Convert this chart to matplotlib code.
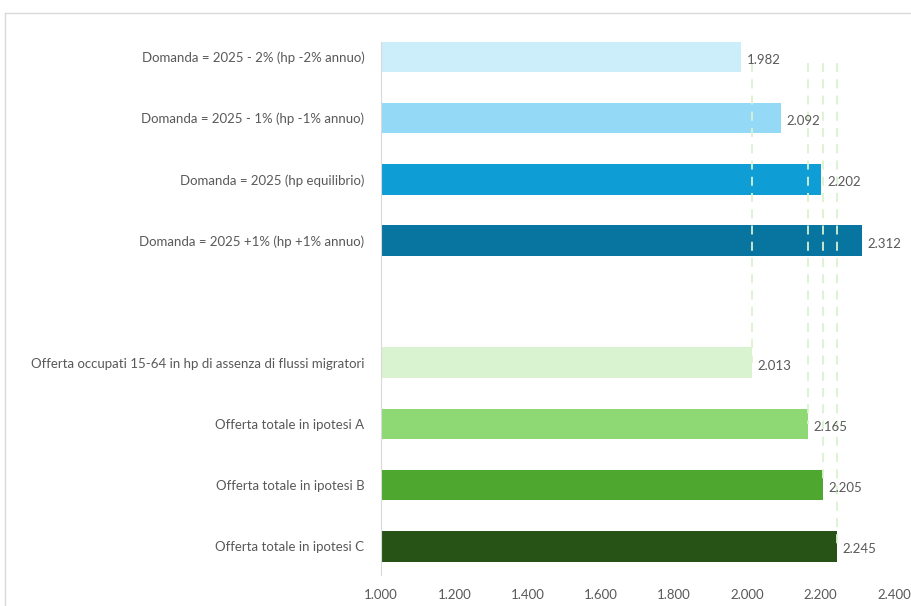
import matplotlib.pyplot as plt
from matplotlib.lines import Line2D
from matplotlib.ticker import FuncFormatter

plt.rcParams['font.family'] = ['Lato', 'DejaVu Sans']

# dati
categorie = [
    'Domanda = 2025 - 2% (hp -2% annuo)',
    'Domanda = 2025 - 1% (hp -1% annuo)',
    'Domanda = 2025 (hp equilibrio)',
    'Domanda = 2025 +1% (hp +1% annuo)',
    '',
    'Offerta occupati 15-64 in hp di assenza di flussi migratori',
    'Offerta totale in ipotesi A',
    'Offerta totale in ipotesi B',
    'Offerta totale in ipotesi C',
]
valori = [1982, 2092, 2202, 2312, None, 2013, 2165, 2205, 2245]
colori = ['#CCEEFB', '#94DAF7', '#0F9DD6', '#0874A0', None,
          '#D9F2D0', '#8ED973', '#4EA72E', '#275317']
tick_x = [1000, 1200, 1400, 1600, 1800, 2000, 2200, 2400]

testo = '#595959'

fig = plt.figure(figsize=(9.12, 6.06), dpi=100)
ax = fig.add_axes([0.4178, 0.0512, 0.5625, 0.8795])

for i, (v, c) in enumerate(zip(valori, colori)):
    if v is None:
        continue
    ax.barh(i, v - 1000, left=1000, height=0.5, color=c, zorder=2)
    ax.text(v + 15, i + 0.05, f'{v/1000:.3f}', va='center', ha='left',
            fontsize=9.5, color=testo, zorder=4)

# linee tratteggiate di riferimento (offerta)
for i in range(5, 9):
    ax.plot([valori[i], valori[i]], [0.1, i], color='#D9F2D0', lw=1.3,
            ls=(0, (5, 4)), zorder=3)

ax.set_xlim(1000, 2400)
ax.set_ylim(8.47, -0.245)
ax.set_xticks(tick_x)
ax.xaxis.set_major_formatter(FuncFormatter(lambda x, p: f'{x/1000:.3f}'))
ax.set_yticks(range(len(categorie)))
ax.set_yticklabels(categorie)
ax.tick_params(axis='both', length=0, colors=testo, labelsize=9.5)
ax.tick_params(axis='x', pad=10)
ax.tick_params(axis='y', pad=12)
for s in ['top', 'right', 'bottom']:
    ax.spines[s].set_visible(False)
ax.spines['left'].set_color('#D9D9D9')

# cornice del grafico
fig.add_artist(Line2D([5/912, 1], [1 - 13/606, 1 - 13/606], color='#D9D9D9', lw=1))
fig.add_artist(Line2D([5/912, 5/912], [0, 1 - 13/606], color='#D9D9D9', lw=1))

fig.savefig('out.png', dpi=100)
